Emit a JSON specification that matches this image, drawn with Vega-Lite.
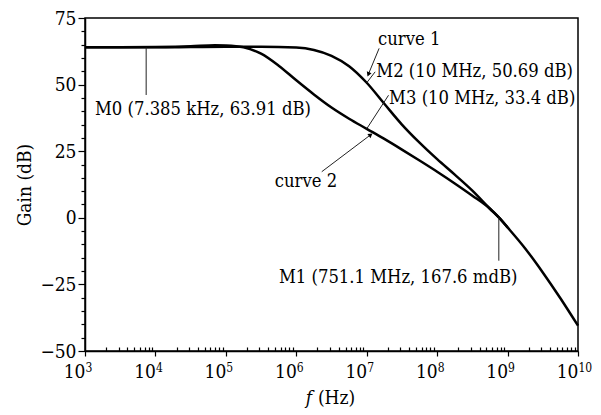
{
  "$schema": "https://vega.github.io/schema/vega-lite/v6.json",
  "width": 493,
  "height": 333,
  "autosize": {"type": "none"},
  "padding": {"left": 85, "top": 18, "right": 23, "bottom": 64},
  "background": "white",
  "config": {
    "view": {"stroke": "black", "strokeWidth": 1.5},
    "axis": {
      "grid": false,
      "domainColor": "black",
      "domainWidth": 1.5,
      "tickColor": "black",
      "tickWidth": 1.2,
      "labelColor": "black",
      "titleColor": "black",
      "labelFont": "DejaVu Serif Condensed",
      "titleFont": "DejaVu Serif Condensed",
      "labelFontSize": 19,
      "titleFontSize": 19,
      "titleFontWeight": "normal",
      "labelFlush": false,
      "labelOverlap": false,
      "labelBound": false
    },
    "text": {"font": "DejaVu Serif Condensed", "fontSize": 18.3, "color": "black"}
  },
  "resolve": {"axis": {"x": "independent", "y": "independent"}},
  "layer": [
    {
      "data": {"values": [
        {"curve": "curve 1", "f": 1000, "gain": 64.0},
        {"curve": "curve 1", "f": 3162, "gain": 64.0},
        {"curve": "curve 1", "f": 10000, "gain": 64.0},
        {"curve": "curve 1", "f": 31623, "gain": 64.1},
        {"curve": "curve 1", "f": 100000, "gain": 64.2},
        {"curve": "curve 1", "f": 316228, "gain": 64.2},
        {"curve": "curve 1", "f": 1000000, "gain": 63.9},
        {"curve": "curve 1", "f": 1778279, "gain": 63.0},
        {"curve": "curve 1", "f": 3162278, "gain": 60.8},
        {"curve": "curve 1", "f": 5623413, "gain": 56.9},
        {"curve": "curve 1", "f": 10000000, "gain": 50.69},
        {"curve": "curve 1", "f": 17782794, "gain": 42.8},
        {"curve": "curve 1", "f": 31622777, "gain": 35.0},
        {"curve": "curve 1", "f": 56234133, "gain": 28.2},
        {"curve": "curve 1", "f": 100000000, "gain": 22.0},
        {"curve": "curve 1", "f": 177827941, "gain": 16.2},
        {"curve": "curve 1", "f": 316227766, "gain": 10.2},
        {"curve": "curve 1", "f": 562341325, "gain": 3.4},
        {"curve": "curve 1", "f": 751100000, "gain": 0.17},
        {"curve": "curve 1", "f": 1000000000, "gain": -3.6},
        {"curve": "curve 1", "f": 1778279410, "gain": -11.5},
        {"curve": "curve 1", "f": 3162277660, "gain": -20.5},
        {"curve": "curve 1", "f": 5623413252, "gain": -30.2},
        {"curve": "curve 1", "f": 10000000000, "gain": -40.5},
        {"curve": "curve 2", "f": 1000, "gain": 64.0},
        {"curve": "curve 2", "f": 3162, "gain": 64.0},
        {"curve": "curve 2", "f": 10000, "gain": 64.1},
        {"curve": "curve 2", "f": 31623, "gain": 64.4},
        {"curve": "curve 2", "f": 70000, "gain": 64.8},
        {"curve": "curve 2", "f": 100000, "gain": 64.7},
        {"curve": "curve 2", "f": 177828, "gain": 64.0},
        {"curve": "curve 2", "f": 316228, "gain": 61.6},
        {"curve": "curve 2", "f": 562341, "gain": 57.1},
        {"curve": "curve 2", "f": 1000000, "gain": 51.6},
        {"curve": "curve 2", "f": 1778279, "gain": 46.3},
        {"curve": "curve 2", "f": 3162278, "gain": 41.4},
        {"curve": "curve 2", "f": 5623413, "gain": 37.2},
        {"curve": "curve 2", "f": 10000000, "gain": 33.4},
        {"curve": "curve 2", "f": 17782794, "gain": 29.6},
        {"curve": "curve 2", "f": 31622777, "gain": 25.6},
        {"curve": "curve 2", "f": 56234133, "gain": 21.5},
        {"curve": "curve 2", "f": 100000000, "gain": 17.3},
        {"curve": "curve 2", "f": 177827941, "gain": 12.9},
        {"curve": "curve 2", "f": 316227766, "gain": 8.3},
        {"curve": "curve 2", "f": 562341325, "gain": 3.4},
        {"curve": "curve 2", "f": 751100000, "gain": 0.17},
        {"curve": "curve 2", "f": 1000000000, "gain": -3.6}
      ]},
      "mark": {"type": "line", "color": "black", "strokeWidth": 2.5, "interpolate": "monotone"},
      "encoding": {
        "x": {
          "field": "f", "type": "quantitative",
          "scale": {"type": "log", "domain": [1000, 10000000000], "nice": false},
          "axis": {
            "orient": "bottom",
            "values": [1000, 10000, 100000, 1000000, 10000000, 100000000, 1000000000, 10000000000],
            "labelExpr": "'10'",
            "labelAlign": "right",
            "labelDx": 0,
            "labelBaseline": "top",
            "tickSize": 5,
            "labelPadding": 6,
            "title": "f",
            "titleFontStyle": "italic",
            "titleX": 223.5,
            "titleY": 52,
            "titleAlign": "center",
            "titleBaseline": "alphabetic",
            "titleAnchor": null
          }
        },
        "y": {
          "field": "gain", "type": "quantitative",
          "scale": {"domain": [-50, 75], "nice": false, "zero": false},
          "axis": {
            "orient": "left",
            "values": [-50, -25, 0, 25, 50, 75],
            "tickSize": 7,
            "labelPadding": 2,
            "title": "Gain (dB)",
            "titleX": -61,
            "titleY": 166.5,
            "titleAngle": 270,
            "titleAlign": "center",
            "titleBaseline": "middle",
            "titleAnchor": null
          }
        },
        "detail": {"field": "curve"}
      }
    },
    {
      "data": {"values": [
        {"x1": 7385, "y1": 63.91, "x2": 7385, "y2": 46.1},
        {"x1": 751100000, "y1": 0.17, "x2": 751100000, "y2": -16.1},
        {"x1": 15000000, "y1": 63.6, "x2": 10640000, "y2": 54.1},
        {"x1": 10000000, "y1": 50.69, "x2": 13180000, "y2": 54.8},
        {"x1": 10000000, "y1": 33.4, "x2": 20400000, "y2": 46.0},
        {"x1": 2300000, "y1": 17.3, "x2": 11170000, "y2": 31.0}
      ]},
      "mark": {"type": "rule", "color": "#222", "strokeWidth": 1},
      "encoding": {
        "x": {
          "field": "x1", "type": "quantitative",
          "scale": {"type": "log", "domain": [1000, 10000000000], "nice": false},
          "axis": {
            "orient": "bottom",
            "values": [2000,3000,4000,5000,6000,7000,8000,9000,20000,30000,40000,50000,60000,70000,80000,90000,200000,300000,400000,500000,600000,700000,800000,900000,2000000,3000000,4000000,5000000,6000000,7000000,8000000,9000000,20000000,30000000,40000000,50000000,60000000,70000000,80000000,90000000,200000000,300000000,400000000,500000000,600000000,700000000,800000000,900000000,2000000000,3000000000,4000000000,5000000000,6000000000,7000000000,8000000000,9000000000],
            "labels": false,
            "domain": false,
            "tickSize": -4,
            "title": null
          }
        },
        "x2": {"field": "x2"},
        "y": {
          "field": "y1", "type": "quantitative",
          "scale": {"domain": [-50, 75], "nice": false, "zero": false},
          "axis": {
            "orient": "left",
            "values": [-45,-40,-35,-30,-20,-15,-10,-5,5,10,15,20,30,35,40,45,55,60,65,70],
            "labels": false,
            "domain": false,
            "tickSize": 4,
            "title": null
          }
        },
        "y2": {"field": "y2"}
      }
    },
    {
      "data": {"values": [{"f": 10640000, "gain": 54.1}]},
      "mark": {"type": "point", "shape": "triangle", "size": 26, "filled": true, "color": "black", "opacity": 1, "angle": 202.6},
      "encoding": {
        "x": {"field": "f", "type": "quantitative", "scale": {"type": "log", "domain": [1000, 10000000000], "nice": false}, "axis": null},
        "y": {"field": "gain", "type": "quantitative", "scale": {"domain": [-50, 75], "nice": false, "zero": false}, "axis": null}
      }
    },
    {
      "data": {"values": [{"f": 11170000, "gain": 31.0}]},
      "mark": {"type": "point", "shape": "triangle", "size": 26, "filled": true, "color": "black", "opacity": 1, "angle": 52.8},
      "encoding": {
        "x": {"field": "f", "type": "quantitative", "scale": {"type": "log", "domain": [1000, 10000000000], "nice": false}, "axis": null},
        "y": {"field": "gain", "type": "quantitative", "scale": {"domain": [-50, 75], "nice": false, "zero": false}, "axis": null}
      }
    },
    {
      "data": {"values": [
        {"label": "M0 (7.385 kHz, 63.91 dB)", "f": 1387, "gain": 38.5},
        {"label": "curve 1", "f": 14450000, "gain": 64.7},
        {"label": "M2 (10 MHz, 50.69 dB)", "f": 13680000, "gain": 52.7},
        {"label": "M3 (10 MHz, 33.4 dB)", "f": 20800000, "gain": 42.7}
      ]},
      "mark": {"type": "text", "align": "left", "baseline": "alphabetic"},
      "encoding": {
        "x": {
          "field": "f", "type": "quantitative",
          "scale": {"type": "log", "domain": [1000, 10000000000], "nice": false},
          "axis": {
            "orient": "bottom",
            "values": [1000, 10000, 100000, 1000000, 10000000, 100000000, 1000000000, 10000000000],
            "labelExpr": "'' + round(log(datum.value) / LN10)",
            "labelAlign": "left",
            "labelDx": 0,
            "labelBaseline": "top",
            "labelFontSize": 12,
            "tickSize": 0,
            "ticks": false,
            "labelPadding": 11,
            "domain": false,
            "title": "(Hz)",
            "titleX": 251,
            "titleY": 52,
            "titleAlign": "center",
            "titleBaseline": "alphabetic",
            "titleAnchor": null
          }
        },
        "y": {"field": "gain", "type": "quantitative", "scale": {"domain": [-50, 75], "nice": false, "zero": false}, "axis": null},
        "text": {"field": "label"}
      }
    },
    {
      "data": {"values": [
        {"label": "curve 2", "f": 3800000, "gain": 11.6},
        {"label": "M1 (751.1 MHz, 167.6 mdB)", "f": 1380000000, "gain": -24.6}
      ]},
      "mark": {"type": "text", "align": "right", "baseline": "alphabetic"},
      "encoding": {
        "x": {"field": "f", "type": "quantitative", "scale": {"type": "log", "domain": [1000, 10000000000], "nice": false}, "axis": null},
        "y": {"field": "gain", "type": "quantitative", "scale": {"domain": [-50, 75], "nice": false, "zero": false}, "axis": null},
        "text": {"field": "label"}
      }
    }
  ]
}
